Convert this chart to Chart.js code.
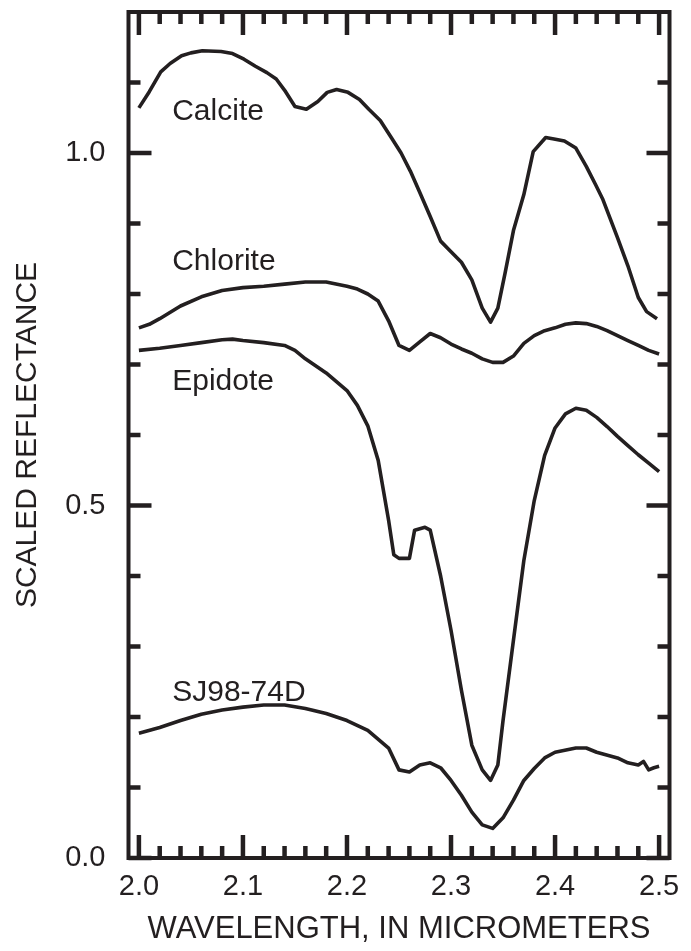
<!DOCTYPE html>
<html>
<head>
<meta charset="utf-8">
<script src="https://cdn.jsdelivr.net/npm/chart.js@4.4.1/dist/chart.umd.min.js"></script>
<style>
  html, body { margin: 0; padding: 0; background: #fff; }
</style>
</head>
<body>
<canvas id="myChart" width="691" height="951"></canvas>
<script>
'use strict';

// tick labels
const xTickValues = [2.0, 2.1, 2.2, 2.3, 2.4, 2.5];
const yTickValues = [0.0, 0.5, 1.0];

// spectra (wavelength in micrometers, scaled reflectance)
const calciteX = [2.000, 2.010, 2.021, 2.030, 2.041, 2.050, 2.061, 2.079, 2.090, 2.101, 2.112, 2.123, 2.132, 2.141, 2.150, 2.161, 2.172, 2.181, 2.190, 2.201, 2.212, 2.221, 2.232, 2.243, 2.252, 2.261, 2.270, 2.280, 2.290, 2.300, 2.310, 2.320, 2.330, 2.338, 2.345, 2.352, 2.360, 2.370, 2.379, 2.391, 2.399, 2.409, 2.420, 2.430, 2.439, 2.446, 2.460, 2.470, 2.480, 2.488, 2.498];
const calciteY = [1.064, 1.087, 1.115, 1.127, 1.138, 1.142, 1.145, 1.144, 1.141, 1.133, 1.123, 1.114, 1.105, 1.087, 1.066, 1.062, 1.073, 1.086, 1.090, 1.086, 1.076, 1.062, 1.046, 1.021, 1.000, 0.974, 0.944, 0.910, 0.875, 0.860, 0.845, 0.820, 0.780, 0.760, 0.780, 0.830, 0.890, 0.941, 1.002, 1.022, 1.020, 1.017, 1.007, 0.981, 0.955, 0.934, 0.880, 0.840, 0.795, 0.775, 0.765];

const chloriteX = [2.00, 2.01, 2.02, 2.04, 2.06, 2.08, 2.10, 2.12, 2.14, 2.16, 2.18, 2.20, 2.21, 2.22, 2.23, 2.24, 2.25, 2.26, 2.27, 2.28, 2.29, 2.30, 2.31, 2.32, 2.33, 2.34, 2.35, 2.36, 2.37, 2.38, 2.39, 2.40, 2.41, 2.42, 2.43, 2.44, 2.45, 2.46, 2.47, 2.48, 2.49, 2.50];
const chloriteY = [0.752, 0.757, 0.765, 0.783, 0.796, 0.805, 0.809, 0.811, 0.814, 0.817, 0.817, 0.811, 0.807, 0.800, 0.790, 0.762, 0.727, 0.720, 0.732, 0.744, 0.738, 0.729, 0.722, 0.716, 0.708, 0.703, 0.703, 0.712, 0.730, 0.741, 0.748, 0.752, 0.757, 0.759, 0.758, 0.754, 0.748, 0.741, 0.734, 0.727, 0.720, 0.715];

const epidoteX = [2.00, 2.02, 2.04, 2.06, 2.08, 2.09, 2.10, 2.12, 2.14, 2.15, 2.16, 2.18, 2.20, 2.21, 2.22, 2.23, 2.24, 2.245, 2.25, 2.26, 2.265, 2.275, 2.28, 2.29, 2.30, 2.31, 2.32, 2.33, 2.338, 2.345, 2.35, 2.36, 2.37, 2.38, 2.39, 2.40, 2.41, 2.42, 2.43, 2.44, 2.45, 2.46, 2.47, 2.48, 2.49, 2.50];
const epidoteY = [0.720, 0.723, 0.727, 0.731, 0.735, 0.736, 0.734, 0.731, 0.727, 0.720, 0.708, 0.688, 0.663, 0.642, 0.613, 0.564, 0.479, 0.430, 0.425, 0.425, 0.465, 0.469, 0.465, 0.400, 0.323, 0.238, 0.160, 0.125, 0.110, 0.132, 0.195, 0.309, 0.422, 0.507, 0.571, 0.610, 0.630, 0.638, 0.635, 0.625, 0.612, 0.598, 0.585, 0.572, 0.560, 0.548];

const sampleX = [2.00, 2.02, 2.04, 2.06, 2.08, 2.10, 2.12, 2.14, 2.16, 2.18, 2.20, 2.22, 2.24, 2.25, 2.26, 2.27, 2.28, 2.29, 2.30, 2.31, 2.32, 2.33, 2.34, 2.35, 2.36, 2.37, 2.38, 2.39, 2.40, 2.42, 2.43, 2.44, 2.46, 2.47, 2.48, 2.485, 2.49, 2.495, 2.50];
const sampleY = [0.177, 0.185, 0.195, 0.204, 0.210, 0.214, 0.217, 0.217, 0.212, 0.205, 0.195, 0.181, 0.156, 0.125, 0.122, 0.132, 0.135, 0.128, 0.110, 0.089, 0.065, 0.047, 0.042, 0.057, 0.082, 0.110, 0.127, 0.142, 0.150, 0.156, 0.156, 0.150, 0.142, 0.135, 0.132, 0.137, 0.125, 0.128, 0.130];

const seriesNames = ['Calcite', 'Chlorite', 'Epidote', 'SJ98-74D'];

const ink = '#231f20';
const font = '"Liberation Sans", Arial, sans-serif';

function toPoints(xs, ys) {
  return xs.map((x, i) => ({ x: x, y: ys[i] }));
}

const allSeries = [
  toPoints(calciteX, calciteY),
  toPoints(chloriteX, chloriteY),
  toPoints(epidoteX, epidoteY),
  toPoints(sampleX, sampleY),
];

// baseline of each curve name, in data units
const namePositions = [
  { x: 2.032, y: 1.047 },
  { x: 2.032, y: 0.834 },
  { x: 2.032, y: 0.664 },
  { x: 2.032, y: 0.222 },
];

// frame with inward ticks on all four sides
const framePlugin = {
  id: 'frame',
  afterDatasetsDraw(chart) {
    const { ctx, chartArea: a, scales } = chart;
    const xs = scales.x, ys = scales.y;
    ctx.save();
    ctx.strokeStyle = ink;
    ctx.lineWidth = 4.5;
    ctx.lineCap = 'butt';

    // x ticks every 0.02, long at every 0.1
    for (let i = 0; i <= 25; i++) {
      const v = 2.0 + i * 0.02;
      const px = xs.getPixelForValue(v);
      const len = i % 5 === 0 ? 23 : 12;
      ctx.beginPath();
      ctx.moveTo(px, a.bottom); ctx.lineTo(px, a.bottom - len);
      ctx.moveTo(px, a.top); ctx.lineTo(px, a.top + len);
      ctx.stroke();
    }
    // y ticks every 0.1, long at every 0.5
    for (let i = 0; i <= 11; i++) {
      const v = i * 0.1;
      const py = ys.getPixelForValue(v);
      const len = i % 5 === 0 ? 23 : 12;
      ctx.beginPath();
      ctx.moveTo(a.left, py); ctx.lineTo(a.left + len, py);
      ctx.moveTo(a.right, py); ctx.lineTo(a.right - len, py);
      ctx.stroke();
    }
    ctx.lineWidth = 4;
    ctx.strokeRect(a.left, a.top, a.right - a.left, a.bottom - a.top);

    // curve names
    ctx.fillStyle = ink;
    ctx.font = '30px ' + font;
    ctx.textBaseline = 'alphabetic';
    ctx.textAlign = 'left';
    seriesNames.forEach((name, i) => {
      const p = namePositions[i];
      ctx.fillText(name, xs.getPixelForValue(p.x), ys.getPixelForValue(p.y));
    });
    ctx.restore();
  }
};

const ctx = document.getElementById('myChart').getContext('2d');

const myChart = new Chart(ctx, {
  type: 'line',
  data: {
    datasets: allSeries.map((pts, i) => ({
      label: seriesNames[i],
      data: pts,
      borderColor: ink,
      borderWidth: 3.6,
      pointRadius: 0,
      tension: 0,
      fill: false,
      borderJoinStyle: 'round',
      borderCapStyle: 'butt',
    })),
  },
  options: {
    responsive: false,
    animation: false,
    devicePixelRatio: 1,
    layout: { padding: { top: 12, right: 21.5, bottom: 0, left: 0 } },
    plugins: {
      legend: { display: false },
      tooltip: { enabled: false },
    },
    scales: {
      x: {
        type: 'linear',
        min: 1.99,
        max: 2.51,
        afterFit(scale) {
          scale.height = 93;
          scale.paddingLeft = 0;
          scale.paddingRight = 0;
        },
        afterBuildTicks(scale) { scale.ticks = xTickValues.map(v => ({ value: v })); },
        grid: { display: false, drawTicks: false },
        border: { display: false },
        ticks: {
          padding: 12,
          color: ink,
          font: { family: font, size: 29 },
          maxRotation: 0,
          callback: v => v.toFixed(1),
        },
        title: {
          display: true,
          text: 'WAVELENGTH, IN MICROMETERS',
          color: ink,
          font: { family: font, size: 31 },
          padding: { top: 0, bottom: 3 },
        },
      },
      y: {
        type: 'linear',
        min: 0,
        max: 1.2,
        afterFit(scale) {
          scale.width = 128.5;
          scale.paddingTop = 0;
          scale.paddingBottom = 0;
        },
        afterBuildTicks(scale) { scale.ticks = yTickValues.map(v => ({ value: v })); },
        grid: { display: false, drawTicks: false },
        border: { display: false },
        ticks: {
          padding: 23,
          color: ink,
          font: { family: font, size: 29 },
          callback: v => v.toFixed(1),
        },
        title: {
          display: true,
          text: 'SCALED REFLECTANCE',
          color: ink,
          font: { family: font, size: 30 },
          padding: { top: 10, bottom: 0 },
        },
      },
    },
  },
  plugins: [framePlugin],
});
</script>
</body>
</html>
